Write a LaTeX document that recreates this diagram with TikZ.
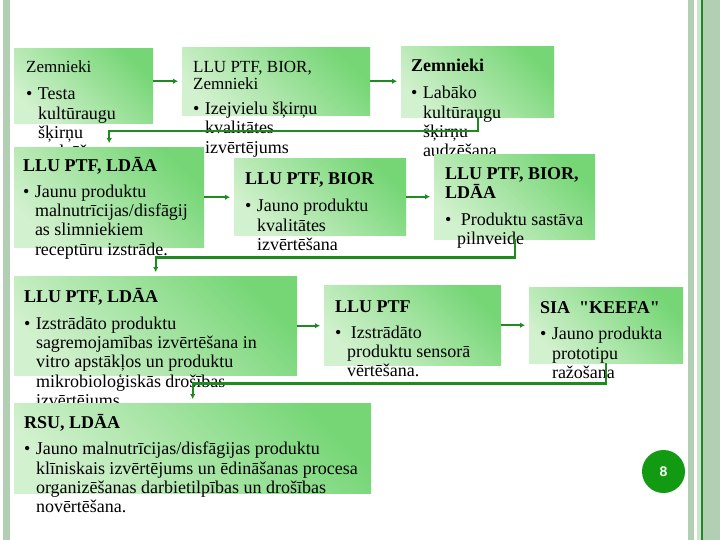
\documentclass[tikz,border=0pt]{standalone}
\usepackage{fontspec}
\setmainfont{Liberation Serif}
\newfontfamily\numfont{Liberation Sans}
\usetikzlibrary{arrows.meta,calc}
\definecolor{boxlt}{HTML}{D2F1CE}
\definecolor{boxdk}{HTML}{76D676}
\definecolor{lnkgreen}{HTML}{1F8A1F}
\definecolor{sage}{HTML}{B3CFB3}
\definecolor{sagelt}{HTML}{CFE2CF}
\definecolor{pagegreen}{HTML}{129A12}
\newcommand{\ttl}[1]{\multicolumn{2}{@{}l@{}}{#1}}
\newcommand{\blk}[1]{\begin{tabular}[t]{@{}l@{\hspace{5.5pt}}l@{}}#1\end{tabular}}

\begin{document}
\begin{tikzpicture}[
  x=1pt, y=-1pt,
  stage/.style={anchor=north west, inner sep=0pt, bottom color=boxlt, top color=boxdk,
    shading angle=-45},
  txt/.style={anchor=base west, inner sep=0pt, font=\fontsize{18}{19.3}\selectfont},
  arrow/.style={lnkgreen, line width=2.2pt, -{Latex[length=5pt,width=5.5pt]}, shorten >=4pt}
]
  \useasboundingbox (0,0) rectangle (720,540);
  \fill[white] (0,0) rectangle (720,540);

  % slide frame
  \fill[sage] (3,0) rectangle (10,540);
  \fill[sage] (688,0) rectangle (694,540);
  \fill[sagelt] (697,0) rectangle (701,540);
  \fill[sage] (703,0) rectangle (720,540);
  \draw[lnkgreen, line width=1.2pt] (702,0) -- (702,540);

  % row 1
  \node[stage, minimum width=139pt, minimum height=75pt] (boxA) at (14,48) {};
  \node[stage, minimum width=188pt, minimum height=68pt] (boxB) at (182,47) {};
  \node[stage, minimum width=153pt, minimum height=71pt] (boxC) at (401,46) {};
  \node[txt] (txtA) at (26,73) {\blk{\ttl{\fontsize{17}{17}\selectfont Zemnieki}\\[7.5pt]
    \textbullet & Testa\\ & kultūraugu\\ & šķirņu\\ & audzēšana}};
  \node[txt] (txtB) at (193,73) {\blk{\ttl{\fontsize{17}{17}\selectfont LLU PTF, BIOR,}\\[-2.5pt]
    \ttl{\fontsize{17}{17}\selectfont Zemnieki}\\[5.5pt]
    \textbullet & Izejvielu šķirņu\\ & kvalitātes\\ & izvērtējums}};
  \node[txt] (txtC) at (411,72) {\blk{\ttl{\bfseries Zemnieki}\\[7.5pt]
    \textbullet & Labāko\\ & kultūraugu\\ & šķirņu\\ & audzēšana}};
  \draw[arrow] (boxA.east |- boxB.west) -- (boxB.west);
  \draw[arrow] (boxB.east) -- (boxB.east -| boxC.west);

  % row 2
  \node[stage, minimum width=190pt, minimum height=100pt] (boxD) at (14,147) {};
  \draw[arrow] (boxC.south) -- ++(0,14) -| (boxD.north);
  \node[stage, minimum width=172pt, minimum height=77pt] (boxE) at (234,158) {};
  \node[stage, minimum width=161pt, minimum height=85pt] (boxF) at (434,154) {};
  \node[txt] (txtD) at (23,172) {\blk{\ttl{\bfseries LLU PTF, LDĀA}\\[6pt]
    \textbullet & Jaunu produktu\\ & malnutrīcijas/disfāgij\\ & as slimniekiem\\ & receptūru izstrāde.}};
  \node[txt] (txtE) at (245,185) {\blk{\ttl{\bfseries LLU PTF, BIOR}\\[7.5pt]
    \textbullet & Jauno produktu\\ & kvalitātes\\ & izvērtēšana}};
  \node[txt] (txtF) at (445,180) {\blk{\ttl{\bfseries LLU PTF, BIOR,}\\[-1pt]
    \ttl{\bfseries LDĀA}\\[7.5pt]
    \textbullet & \hspace{4pt}Produktu sastāva\\ & pilnveide}};
  \draw[arrow] (boxD.east) -- (boxD.east -| boxE.west);
  \draw[arrow] (boxE.east) -- (boxE.east -| boxF.west);

  % row 3
  \node[stage, minimum width=283pt, minimum height=99pt] (boxG) at (14,276) {};
  \draw[arrow] (boxF.south) -- ++(0,18) -| (boxG.north);
  \node[stage, minimum width=177pt, minimum height=80pt] (boxH) at (324,285) {};
  \node[stage, minimum width=154pt, minimum height=76pt] (boxI) at (529,287) {};
  \node[txt] (txtG) at (24,302) {\blk{\ttl{\bfseries LLU PTF, LDĀA}\\[8pt]
    \textbullet & Izstrādāto produktu\\ & sagremojamības izvērtēšana in\\
    & vitro apstākļos un produktu\\ & mikrobioloģiskās drošības\\ & izvērtējums}};
  \node[txt] (txtH) at (335,312) {\blk{\ttl{\bfseries LLU PTF}\\[7pt]
    \textbullet & \hspace{4pt}Izstrādāto\\ & produktu sensorā\\ & vērtēšana.}};
  \node[txt] (txtI) at (540,313) {\blk{\ttl{\bfseries SIA\ \ \textquotedbl KEEFA\textquotedbl}\\[7.5pt]
    \textbullet & Jauno produkta\\ & prototipu\\ & ražošana}};
  \draw[arrow] (boxG.east) -- (boxG.east -| boxH.west);
  \draw[arrow] (boxH.east) -- (boxH.east -| boxI.west);

  % row 4
  \node[stage, minimum width=357pt, minimum height=90pt] (boxJ) at (14,403) {};
  \draw[arrow] (boxI.south) -- ++(0,20) -| (boxJ.north);
  \node[txt] (txtJ) at (24,428) {\blk{\ttl{\bfseries RSU, LDĀA}\\[7.5pt]
    \textbullet & Jauno malnutrīcijas/disfāgijas produktu\\
    & klīniskais izvērtējums un ēdināšanas procesa\\
    & organizēšanas darbietilpības un drošības\\ & novērtēšana.}};

  % page number
  \node[circle, fill=pagegreen, minimum size=43pt, inner sep=0pt, text=white,
    font=\numfont\bfseries\fontsize{14}{14}\selectfont] (pgnum) at (663.5,471.5) {8};
\end{tikzpicture}
\end{document}
